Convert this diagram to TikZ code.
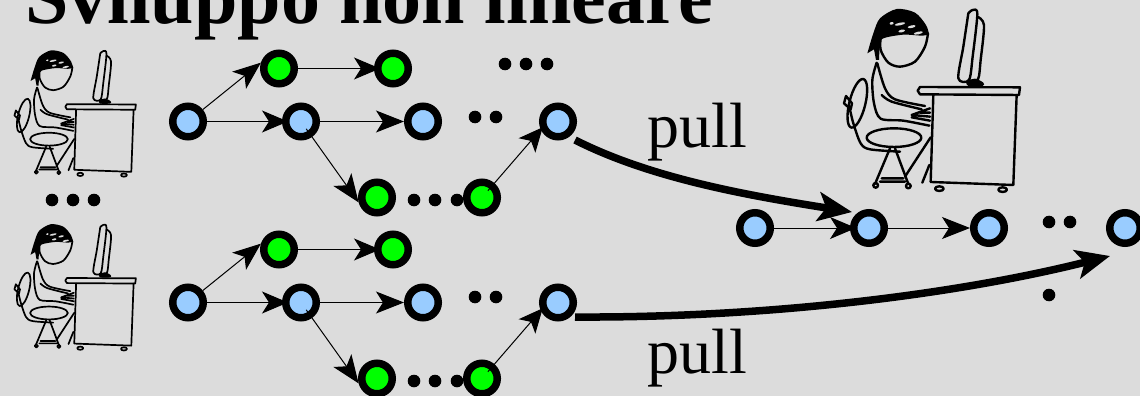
\documentclass[tikz,border=0pt]{standalone}
\usepackage{fontspec}
\setmainfont{Liberation Serif}
\usetikzlibrary{arrows.meta}
\definecolor{bgc}{HTML}{DCDCDC}
\definecolor{bluec}{HTML}{99CCFF}
\definecolor{greenc}{HTML}{00FF00}
\tikzset{
  commit/.style={circle,draw=black,line width=7.5pt,minimum size=30.5pt,inner sep=0pt},
  bluecommit/.style={commit,fill=bluec},
  greencommit/.style={commit,fill=greenc},
  dotmark/.style={circle,fill=black,inner sep=0pt,minimum size=12.6pt},
  link/.style={line width=1pt,-{Stealth[length=28pt,width=22pt,inset=7pt]}},
  midlink/.style={line width=1pt,shorten >=-6pt,-{Stealth[length=26pt,width=22pt,inset=7pt]}},
  shortlink/.style={line width=1pt,shorten >=-3pt,-{Stealth[length=24pt,width=22pt,inset=6pt]}},
  pullarrow/.style={line width=7.5pt,-{Stealth[length=34pt,width=29pt,inset=8pt]}},
  pulltext/.style={font=\fontsize{64}{64}\selectfont,inner sep=0pt,anchor=base west},
  titletext/.style={font=\fontsize{78}{78}\selectfont\bfseries,inner sep=0pt,anchor=base west}
}
\newcommand{\personfig}[4]{%
\begin{scope}[shift={(#1,#2)},scale=#3,line width=#4,line cap=round,line join=round]
  % hair
  \fill[black] plot[smooth] coordinates {(82,160) (100,100) (120,55) (170,27) (225,38) (258,75) (267,103)}
     -- plot[smooth] coordinates {(267,103) (245,107) (190,104) (130,115) (120,135) (117,180)}
     -- (108,180) -- (102,148) -- cycle;
  \foreach \hx/\hy/\hr in {180/72/16,215/80/12,185/93/10,235/99/14,155/70/6}
    \fill[bgc,rotate around={12:(\hx,\hy)}] (\hx,\hy) ellipse [x radius=\hr,y radius=4];
  % head
  \draw plot[smooth] coordinates {(122,112) (122,150) (145,188) (180,200) (225,185) (255,140) (264,100)};
  % body
  \draw plot[smooth] coordinates {(110,188) (97,240) (102,310) (122,356) (190,362) (268,377)};
  \draw plot[smooth] coordinates {(112,190) (135,265) (165,298) (255,318)};
  \draw plot[smooth] coordinates {(125,285) (155,305) (245,328)};
  \draw (215,345) -- (270,325) (215,345) -- (270,350) (215,352) -- (270,362) (240,338) -- (270,338);
  % monitor
  \draw plot[smooth] coordinates {(385,40) (398,30) (412,42) (398,170) (387,240) (355,235) (370,140) (385,40)};
  \draw plot[smooth] coordinates {(412,50) (432,75) (422,180) (414,238) (387,242)};
  \fill[black] plot[smooth cycle] coordinates {(380,245) (405,236) (430,248) (428,258) (385,258)};
  % desk
  \draw (240,261) -- (540,262) -- (537,285) -- (240,283) -- (233,272) -- cycle;
  \draw (280,285) -- (272,546) -- (520,555) -- (530,285);
  \draw (298,566) ellipse [x radius=13,y radius=7] (488,569) ellipse [x radius=13,y radius=7];
  % chair
  \draw[rotate around={-14:(52,310)}] (52,310) ellipse [x radius=24,y radius=75];
  \draw (162,413) ellipse [x radius=82,y radius=28];
  \draw plot[smooth] coordinates {(28,320) (40,370) (62,430) (90,448) (180,455)};
  \draw (18,288) -- (12,310) -- (32,328) -- (36,310) -- cycle;
  \draw (150,445) -- (105,552) (165,445) -- (205,552) (125,535) -- (190,535) (120,545) -- (195,545);
  \draw (107,556) circle [radius=7] (205,558) circle [radius=7];
  \draw (272,412) -- (195,530) (268,495) -- (247,548);
\end{scope}}
\begin{document}
\begin{tikzpicture}[x=1pt,y=-1pt]
\useasboundingbox (0,0) rectangle (1140,396);
\clip (0,0) rectangle (1140,396);
\fill[bgc] (0,0) rectangle (1140,396);

\node[titletext] (title) at (25,24) {Sviluppo non lineare};

\personfig{840}{0}{0.3333}{2.4pt}
\personfig{11.7}{44.2}{0.23}{1.7pt}
\personfig{11.7}{218}{0.23}{1.7pt}

% top developer
\node[bluecommit] (a0) at (188,121.5) {};
\node[greencommit] (a1) at (279,68.5) {};
\node[greencommit] (a2) at (393,68.5) {};
\node[bluecommit] (a3) at (301,121.5) {};
\node[bluecommit] (a4) at (423,121.5) {};
\node[bluecommit] (a5) at (558,121.5) {};
\node[greencommit] (a6) at (377,197.5) {};
\node[greencommit] (a7) at (482,197.5) {};
% bottom developer
\node[bluecommit] (b0) at (188,302.5) {};
\node[greencommit] (b1) at (279,249.5) {};
\node[greencommit] (b2) at (393,249.5) {};
\node[bluecommit] (b3) at (301,302.5) {};
\node[bluecommit] (b4) at (423,302.5) {};
\node[bluecommit] (b5) at (558,302.5) {};
\node[greencommit] (b6) at (377,378.5) {};
\node[greencommit] (b7) at (482,378.5) {};
% shared repository
\node[bluecommit] (r1) at (755,228) {};
\node[bluecommit] (r2) at (869,228) {};
\node[bluecommit] (r3) at (989,228) {};
\node[bluecommit] (r4) at (1125,228) {};

% dots
\foreach \n/\x/\y in {d1/505/64,d2/526/64,d3/547/64,d4/475/117,d5/496/117,
  d6/414/200,d7/435/200,d8/457/200,d9/52/200,d10/73/200,d11/94/200,
  d12/475/297,d13/496/297,d14/414/381,d15/435/381,d16/457/381,
  d17/1049/222,d18/1070/222,d19/1049/295}
  \node[dotmark] (\n) at (\x,\y) {};

\foreach \p in {a,b}{
  \draw[link] (\p0) -- (\p1.162);
  \draw[midlink] (\p1) -- (\p2);
  \draw[midlink] (\p0) -- (\p3);
  \draw[link] (\p3) -- (\p4);
  \draw[link,shorten <=9pt] (\p3.center) -- (\p6.195);
  \draw[shortlink,shorten <=9pt] (\p7.center) -- (\p5.205);
}
\draw[midlink] (r1) -- (r2);
\draw[link] (r2) -- (r3);

\coordinate (s1) at (575,140);
\coordinate (e1) at (852,212);
\coordinate (s2) at (575,317);
\coordinate (e2) at (1110,256);
\draw[pullarrow] (s1) .. controls (650,178) and (745,195) .. (e1);
\draw[pullarrow] (s2) .. controls (760,318) and (950,296) .. (e2);

\node[pulltext] (p1) at (647,147) {pull};
\node[pulltext] (p2) at (647,373) {pull};
\end{tikzpicture}
\end{document}
